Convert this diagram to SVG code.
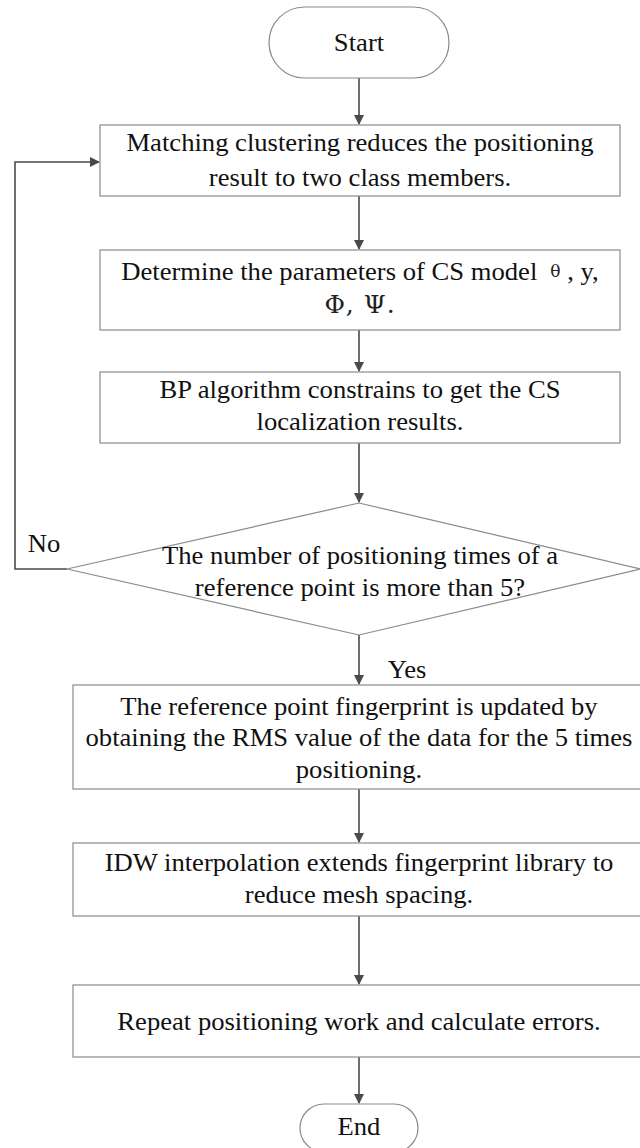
<svg xmlns="http://www.w3.org/2000/svg" width="640" height="1148" viewBox="0 0 640 1148">
<defs>
<style>
.box{fill:#fff;stroke:#8a8a8a;stroke-width:1.2}
.t{font-family:"Liberation Serif","Times New Roman",serif;font-size:25px;fill:#111;text-anchor:middle}
.g{font-family:"DejaVu Serif","Liberation Serif",serif;fill:#222}
.c{fill:none;stroke:#4a4a4a;stroke-width:1.6}
</style>
<marker id="ah" markerWidth="10" markerHeight="12" refX="9" refY="5" orient="auto" markerUnits="userSpaceOnUse" viewBox="0 0 10 10">
<path d="M0,0 L10,5 L0,10 z" fill="#4a4a4a"/>
</marker>
</defs>
<rect width="640" height="1148" fill="#fff"/>
<g id="connectors">
<line class="c" x1="359" y1="78" x2="359" y2="124" marker-end="url(#ah)"/>
<line class="c" x1="359" y1="196" x2="359" y2="249" marker-end="url(#ah)"/>
<line class="c" x1="359" y1="330" x2="359" y2="371" marker-end="url(#ah)"/>
<line class="c" x1="359" y1="443" x2="359" y2="502" marker-end="url(#ah)"/>
<line class="c" x1="359" y1="635" x2="359" y2="684" marker-end="url(#ah)"/>
<line class="c" x1="359" y1="789" x2="359" y2="842" marker-end="url(#ah)"/>
<line class="c" x1="359" y1="916" x2="359" y2="984" marker-end="url(#ah)"/>
<line class="c" x1="359" y1="1057" x2="359" y2="1103" marker-end="url(#ah)"/>
<polyline class="c" points="67,569 15,569 15,162 99,162" marker-end="url(#ah)"/>
<text class="t" transform="translate(44 552) scale(1.065 1)">No</text>
<text class="t" transform="translate(407 678) scale(1.065 1)">Yes</text>
</g>
<g id="start">
<rect class="box" x="269" y="7" width="180" height="71" rx="35.5"/>
<text class="t" transform="translate(359 51) scale(1.065 1)">Start</text>
</g>
<g id="step1">
<rect class="box" x="100" y="125" width="520" height="71"/>
<text class="t" transform="translate(360 151) scale(1.065 1)">Matching clustering reduces the positioning</text>
<text class="t" transform="translate(360 186) scale(1.065 1)">result to two class members.</text>
</g>
<g id="step2">
<rect class="box" x="100" y="250" width="520" height="80"/>
<text class="t" transform="translate(360 280) scale(1.065 1)">Determine the parameters of CS model <tspan class="g" font-size="16" dx="6" dy="-3">θ</tspan><tspan dy="3"> , y,</tspan></text>
<text class="t g" font-size="22" letter-spacing="1" transform="translate(360 313)">Φ,  Ψ.</text>
</g>
<g id="step3">
<rect class="box" x="100" y="372" width="520" height="71"/>
<text class="t" transform="translate(360 398) scale(1.065 1)">BP algorithm constrains to get the CS</text>
<text class="t" transform="translate(360 430) scale(1.065 1)">localization results.</text>
</g>
<g id="decision">
<polygon class="box" points="359,503 641,569 359,635 67,569"/>
<text class="t" transform="translate(360 564) scale(1.065 1)">The number of positioning times of a</text>
<text class="t" transform="translate(360 596) scale(1.065 1)">reference point is more than 5?</text>
</g>
<g id="step4">
<rect class="box" x="73" y="685" width="575" height="104"/>
<text class="t" transform="translate(359 715) scale(1.065 1)">The reference point fingerprint is updated by</text>
<text class="t" transform="translate(359 746) scale(1.065 1)">obtaining the RMS value of the data for the 5 times</text>
<text class="t" transform="translate(359 778) scale(1.065 1)">positioning.</text>
</g>
<g id="step5">
<rect class="box" x="73" y="843" width="575" height="73"/>
<text class="t" transform="translate(359 871) scale(1.065 1)">IDW interpolation extends fingerprint library to</text>
<text class="t" transform="translate(359 903) scale(1.065 1)">reduce mesh spacing.</text>
</g>
<g id="step6">
<rect class="box" x="73" y="985" width="575" height="72"/>
<text class="t" transform="translate(359 1030) scale(1.065 1)">Repeat positioning work and calculate errors.</text>
</g>
<g id="end">
<rect class="box" x="300" y="1104" width="118" height="48" rx="24"/>
<text class="t" transform="translate(359 1135) scale(1.065 1)">End</text>
</g>
</svg>
